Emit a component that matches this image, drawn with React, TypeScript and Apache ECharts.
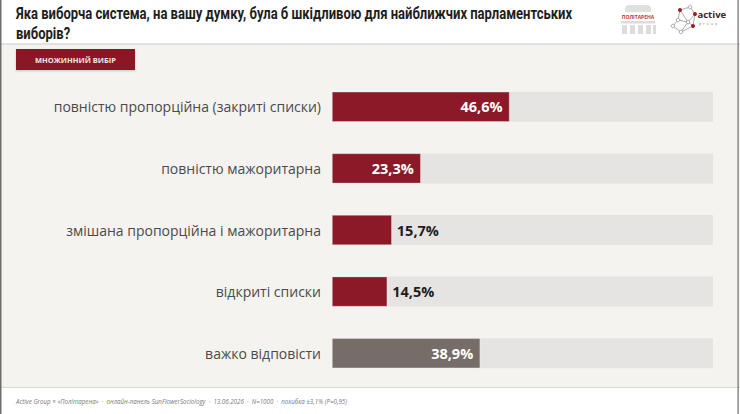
import React, { useEffect, useRef } from "react";
import * as echarts from "echarts";

const categories = [
  "повністю пропорційна (закриті списки)",
  "повністю мажоритарна",
  "змішана пропорційна і мажоритарна",
  "відкриті списки",
  "важко відповісти",
];
const values = [46.6, 23.3, 15.7, 14.5, 38.9];
const barColors = ["#8b1927", "#8b1927", "#8b1927", "#8b1927", "#776d68"];
const titleLines = [
  "Яка виборча система, на вашу думку, була б шкідливою для найближчих парламентських",
  "виборів?",
];
const badgeText = "МНОЖИННИЙ ВИБІР";
const footerText =
  "Active Group × «Політарена»  ·  онлайн-панель SunFlowerSociology  ·  13.06.2026  ·  N=1000  ·  похибка ±3,1% (P=0,95)";

const fmt = (v: number) => v.toFixed(1).replace(".", ",") + "%";

export default function App() {
  const ref = useRef<HTMLDivElement>(null);
  useEffect(() => {
    document.body.style.margin = "0";
    const chart = echarts.init(ref.current!, null, { renderer: "svg" });
    const titleFont = "bold 16px Roboto";
    let titleScale = 0.8;
    try {
      const ctx = document.createElement("canvas").getContext("2d")!;
      ctx.font = titleFont;
      const w = ctx.measureText(titleLines[0]).width;
      if (w > 0) titleScale = 557 / w;
    } catch (e) {}
    const nodes = [
      [680, 10], [690, 7], [695, 14], [688, 22], [678, 20], [673, 26], [681, 32], [693, 26],
    ];
    const edges = [
      [0, 1], [1, 2], [2, 3], [3, 4], [4, 0], [4, 5], [5, 6], [6, 3], [3, 7], [7, 2], [6, 7], [0, 3],
    ];
    const redNodes = [0, 2, 7];
    chart.setOption({
      animation: false,
      backgroundColor: "#ffffff",
      grid: { left: 332, right: 27, top: 76, bottom: 30, containLabel: false },
      xAxis: { type: "value", min: 0, max: 100, show: false },
      yAxis: {
        type: "category",
        inverse: true,
        data: categories,
        axisLine: { show: false },
        axisTick: { show: false },
        splitLine: { show: false },
        axisLabel: { fontSize: 14, color: "#4a4a4a", fontFamily: "Open Sans", margin: 11 },
      },
      graphic: [
        { type: "rect", z: -10, shape: { x: 0, y: 45, width: 740, height: 343 }, style: { fill: "#f5f3ef" } },
        { type: "rect", z: -9, shape: { x: 0, y: 43, width: 740, height: 2 }, style: { fill: "#e4e2de" } },
        { type: "rect", z: -9, shape: { x: 0, y: 387, width: 740, height: 1 }, style: { fill: "#dcdad6" } },
        { type: "rect", z: 50, shape: { x: 0, y: 0, width: 1.5, height: 414 }, style: { fill: "#6e6e6e" } },
        { type: "rect", z: 50, shape: { x: 737.5, y: 0, width: 1.2, height: 414 }, style: { fill: "#6e6e6e" } },
        ...titleLines.map((t, i) => ({
          type: "text",
          x: 16,
          y: 14 + i * 19.5,
          scaleX: titleScale,
          style: {
            text: t,
            font: titleFont,
            fill: "#1e1e1e",
            verticalAlign: "middle",
          },
        })),
        {
          type: "rect",
          shape: { x: 16, y: 49, width: 119, height: 21 },
          style: { fill: "#8b1927", shadowBlur: 2, shadowColor: "rgba(0,0,0,0.2)", shadowOffsetY: 1 },
        },
        {
          type: "text",
          x: 75.5,
          y: 59.5,
          style: {
            text: badgeText,
            fontSize: 7.5,
            fontWeight: "bold",
            fill: "#f3e6e8",
            align: "center",
            verticalAlign: "middle",
            fontFamily: "'Open Sans', sans-serif",
          },
        },
        {
          type: "text",
          x: 16,
          y: 401,
          style: {
            text: footerText,
            fontSize: 6.2,
            fontStyle: "italic",
            fill: "#7a7a7a",
            verticalAlign: "middle",
            fontFamily: "'Open Sans', sans-serif",
          },
        },
        // Політарена logo
        { type: "rect", shape: { x: 625, y: 5, width: 26, height: 7, r: [4, 4, 0, 0] }, style: { fill: "#e0e0e0" } },
        {
          type: "text",
          x: 638,
          y: 16.5,
          style: { text: "ПОЛІТАРЕНА", fontSize: 5, fontWeight: "bold", fill: "#c0392b", align: "center", verticalAlign: "middle", fontFamily: "'Open Sans', sans-serif" },
        },
        { type: "rect", shape: { x: 621, y: 21, width: 34, height: 2.5 }, style: { fill: "#dcdcdc" } },
        { type: "rect", shape: { x: 622, y: 25, width: 5, height: 9 }, style: { fill: "#dcdcdc" } },
        { type: "rect", shape: { x: 630, y: 25, width: 5, height: 9 }, style: { fill: "#dcdcdc" } },
        { type: "rect", shape: { x: 638, y: 25, width: 5, height: 9 }, style: { fill: "#dcdcdc" } },
        { type: "rect", shape: { x: 646, y: 25, width: 5, height: 9 }, style: { fill: "#dcdcdc" } },
        { type: "rect", shape: { x: 653, y: 25, width: 3, height: 9 }, style: { fill: "#dcdcdc" } },
        // active group logo
        ...edges.map(([a, b]) => ({
          type: "line",
          shape: { x1: nodes[a][0], y1: nodes[a][1], x2: nodes[b][0], y2: nodes[b][1] },
          style: { stroke: "#8a8a8a", lineWidth: 0.7 },
        })),
        ...nodes.map((n, i) => ({
          type: "circle",
          shape: { cx: n[0], cy: n[1], r: redNodes.includes(i) ? 2 : 1.8 },
          style: redNodes.includes(i) ? { fill: "#9b1c2a" } : { fill: "#ffffff", stroke: "#8a8a8a", lineWidth: 0.7 },
        })),
        {
          type: "text",
          x: 697.5,
          y: 14,
          style: { text: "active", fontSize: 9.5, fontWeight: "bold", fill: "#3a2a2c", verticalAlign: "middle", fontFamily: "'Open Sans', sans-serif" },
        },
        {
          type: "text",
          x: 699,
          y: 23,
          style: { text: "g  r  o  u  p", fontSize: 3.8, fill: "#888888", verticalAlign: "middle", fontFamily: "'Open Sans', sans-serif" },
        },
      ],
      series: [
        {
          type: "bar",
          barWidth: 30,
          showBackground: true,
          backgroundStyle: { color: "#e6e4e2" },
          data: values.map((v, i) => ({
            value: v,
            itemStyle: { color: barColors[i], borderColor: "rgba(255,255,255,0.55)", borderWidth: 0.6 },
            label:
              v > 20
                ? { position: "insideRight", color: "#ffffff", distance: 7 }
                : { position: "right", color: "#1e1e1e", distance: 5 },
          })),
          label: {
            show: true,
            fontSize: 14.5,
            fontWeight: "bold",
            fontFamily: "'Open Sans', sans-serif",
            formatter: (p: any) => fmt(p.value),
          },
        },
      ],
    });
    return () => chart.dispose();
  }, []);
  return <div ref={ref} style={{ width: 740, height: 414 }} />;
}
